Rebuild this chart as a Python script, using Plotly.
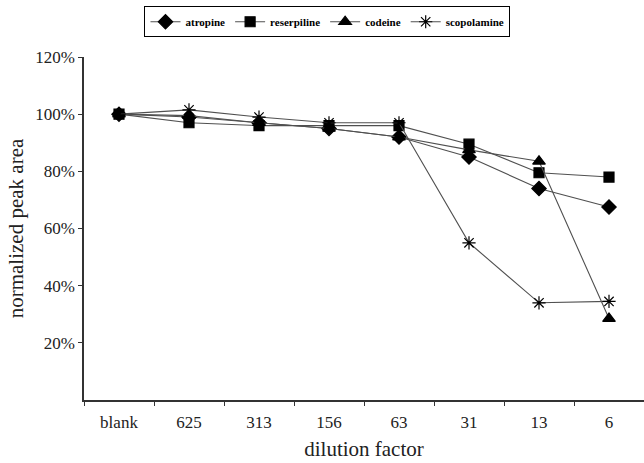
import plotly.graph_objects as go

categories = ["blank", "625", "313", "156", "63", "31", "13", "6"]
atropine = [1.00, 0.99, 0.97, 0.95, 0.92, 0.85, 0.74, 0.675]
reserpiline = [1.00, 0.97, 0.96, 0.96, 0.96, 0.895, 0.795, 0.78]
codeine = [1.00, 0.995, 0.97, 0.95, 0.92, 0.875, 0.835, 0.285]
scopolamine = [1.00, 1.015, 0.99, 0.97, 0.97, 0.55, 0.34, 0.345]
ytick_vals = [0.2, 0.4, 0.6, 0.8, 1.0, 1.2]
ytick_text = ["20%", "40%", "60%", "80%", "100%", "120%"]

series = [
    ("atropine", atropine, "diamond", 11),
    ("reserpiline", reserpiline, "square", 10),
    ("codeine", codeine, "triangle-up", 11),
    ("scopolamine", scopolamine, "asterisk-open", 11),
]

fig = go.Figure()
for name, vals, sym, sz in series:
    open_sym = sym.endswith("open")
    fig.add_trace(go.Scatter(
        x=categories, y=vals, name=name, mode="lines+markers",
        line=dict(color="#505050", width=1.1),
        marker=dict(symbol=sym, size=sz, color="#000000",
                    line=dict(color="#555555" if open_sym else "#000000", width=1.2)),
    ))

font_family = "Liberation Serif, Times New Roman, serif"
fig.update_layout(
    width=644, height=463,
    margin=dict(l=84, r=0, t=57, b=63),
    plot_bgcolor="white", paper_bgcolor="white",
    font=dict(family=font_family, color="#222222"),
    showlegend=True,
    legend=dict(
        orientation="h", x=0.108, y=1.148, xanchor="left", yanchor="top",
        bordercolor="#000000", borderwidth=1,
        font=dict(family=font_family, size=11, color="#000000", weight="bold"),
        itemwidth=30, tracegroupgap=0,
    ),
    xaxis=dict(
        type="category", categoryorder="array", categoryarray=categories,
        range=[-0.5, 7.5], tickson="boundaries",
        ticks="outside", ticklen=4, tickcolor="#333333",
        showline=True, linecolor="#333333", linewidth=1.5,
        showgrid=False, zeroline=False,
        ticklabelstandoff=6,
        tickfont=dict(size=17, family=font_family),
        title=dict(text="dilution factor", font=dict(size=21, family=font_family), standoff=10),
    ),
    yaxis=dict(
        range=[0, 1.2], tickvals=ytick_vals, ticktext=ytick_text,
        ticks="outside", ticklen=4, tickcolor="#333333",
        showline=True, linecolor="#333333", linewidth=1.5,
        showgrid=False, zeroline=False,
        tickfont=dict(size=17, family=font_family),
        title=dict(text="normalized peak area", font=dict(size=21, family=font_family), standoff=6),
    ),
)

fig.write_html("out.html")
